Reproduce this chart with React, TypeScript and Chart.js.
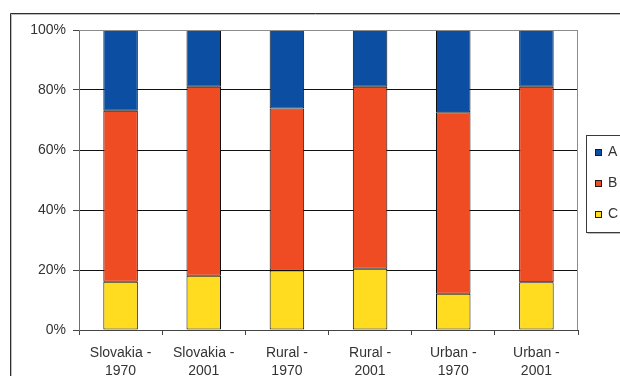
import React, { useEffect, useRef } from "react";
import { Chart, registerables } from "chart.js";

Chart.register(...registerables);

const categories: string[][] = [
  ["Slovakia -", "1970"],
  ["Slovakia -", "2001"],
  ["Rural -", "1970"],
  ["Rural -", "2001"],
  ["Urban -", "1970"],
  ["Urban -", "2001"],
];
const seriesC = [16.1, 18.1, 19.8, 20.4, 12.1, 15.9];
const seriesB = [57.0, 63.0, 54.0, 60.7, 60.5, 65.2];
const seriesA = [26.9, 18.9, 26.2, 18.9, 27.4, 18.9];
const legendLabels = ["A", "B", "C"];
const colorA = "#0C4FA2";
const colorB = "#F04C24";
const colorC = "#FFDC20";
const FONT = "'Liberation Sans', Arial, sans-serif";

const framePlugin = {
  id: "frame",
  beforeDraw(chart: any) {
    const ctx = chart.ctx;
    ctx.save();
    ctx.fillStyle = "#ffffff";
    ctx.fillRect(0, 0, chart.width, chart.height);
    ctx.strokeStyle = "#bdbdbd";
    ctx.lineWidth = 1;
    ctx.beginPath();
    ctx.moveTo(11.5, 376);
    ctx.lineTo(11.5, 14.5);
    ctx.lineTo(620, 14.5);
    ctx.stroke();
    ctx.strokeStyle = "#2e2e2e";
    ctx.beginPath();
    ctx.moveTo(10.5, 376);
    ctx.lineTo(10.5, 13.5);
    ctx.lineTo(620, 13.5);
    ctx.stroke();
    ctx.restore();
  },
  afterDraw(chart: any) {
    const ctx = chart.ctx;
    const a = chart.chartArea;
    ctx.save();
    ctx.strokeStyle = "#8c8c8c";
    ctx.lineWidth = 1;
    ctx.beginPath();
    ctx.moveTo(a.left, Math.round(a.top) + 0.5);
    ctx.lineTo(Math.round(a.right) - 0.5, Math.round(a.top) + 0.5);
    ctx.lineTo(Math.round(a.right) - 0.5, a.bottom);
    ctx.stroke();
    ctx.strokeStyle = "#bdbdbd";
    ctx.beginPath();
    ctx.moveTo(587.5, 233.5);
    ctx.lineTo(620, 233.5);
    ctx.stroke();
    ctx.strokeStyle = "#3a3a3a";
    ctx.strokeRect(586.5, 135.5, 60, 97);
    const cols = [colorA, colorB, colorC];
    const ys = [149, 180, 211];
    ctx.font = "14px " + FONT;
    ctx.textBaseline = "middle";
    ctx.textAlign = "left";
    for (let i = 0; i < 3; i++) {
      ctx.fillStyle = cols[i];
      ctx.fillRect(595, ys[i], 6, 6);
      ctx.strokeStyle = "#1a1a1a";
      ctx.strokeRect(595.5, ys[i] + 0.5, 6, 6);
      ctx.fillStyle = "#333333";
      ctx.fillText(legendLabels[i], 608, ys[i] + 3.5);
    }
    ctx.restore();
  },
};

export default function App() {
  const ref = useRef<HTMLCanvasElement | null>(null);
  useEffect(() => {
    document.body.style.margin = "0";
    const canvas = ref.current!;
    const common = {
      borderColor: "#111111",
      borderWidth: 1,
      borderSkipped: false as const,
      categoryPercentage: 1,
      barPercentage: 0.415,
    };
    const chart = new Chart(canvas, {
      type: "bar",
      data: {
        labels: categories,
        datasets: [
          { label: "C", data: seriesC, backgroundColor: colorC, ...common },
          { label: "B", data: seriesB, backgroundColor: colorB, ...common },
          { label: "A", data: seriesA, backgroundColor: colorA, ...common },
        ],
      },
      options: {
        animation: false,
        responsive: false,
        maintainAspectRatio: false,
        layout: { padding: { left: 0, top: 30, right: 42, bottom: 0 } },
        plugins: { legend: { display: false }, tooltip: { enabled: false } },
        scales: {
          x: {
            stacked: true,
            afterFit(scale: any) {
              scale.height = 46;
            },
            grid: {
              offset: true,
              drawOnChartArea: false,
              tickLength: 5,
              color: "#444444",
            },
            border: { color: "#444444", width: 1 },
            ticks: {
              font: { family: FONT, size: 14, lineHeight: 1.3 },
              color: "#333333",
              padding: 9,
              maxRotation: 0,
              autoSkip: false,
            },
          },
          y: {
            stacked: true,
            min: 0,
            max: 100,
            afterFit(scale: any) {
              scale.width = 79;
            },
            grid: {
              color: (c: any) => (c.tick && c.tick.value === 100 ? "#8c8c8c" : "#111111"),
              tickLength: 6,
              tickColor: "#444444",
            },
            border: { color: "#6e6e6e", width: 1 },
            ticks: {
              stepSize: 20,
              font: { family: FONT, size: 14 },
              color: "#333333",
              padding: 7,
              callback: (v: any) => v + "%",
            },
          },
        },
      },
      plugins: [framePlugin],
    });
    return () => chart.destroy();
  }, []);
  return (
    <canvas
      ref={ref}
      width={620}
      height={376}
      style={{ display: "block", width: 620, height: 376 }}
    />
  );
}
